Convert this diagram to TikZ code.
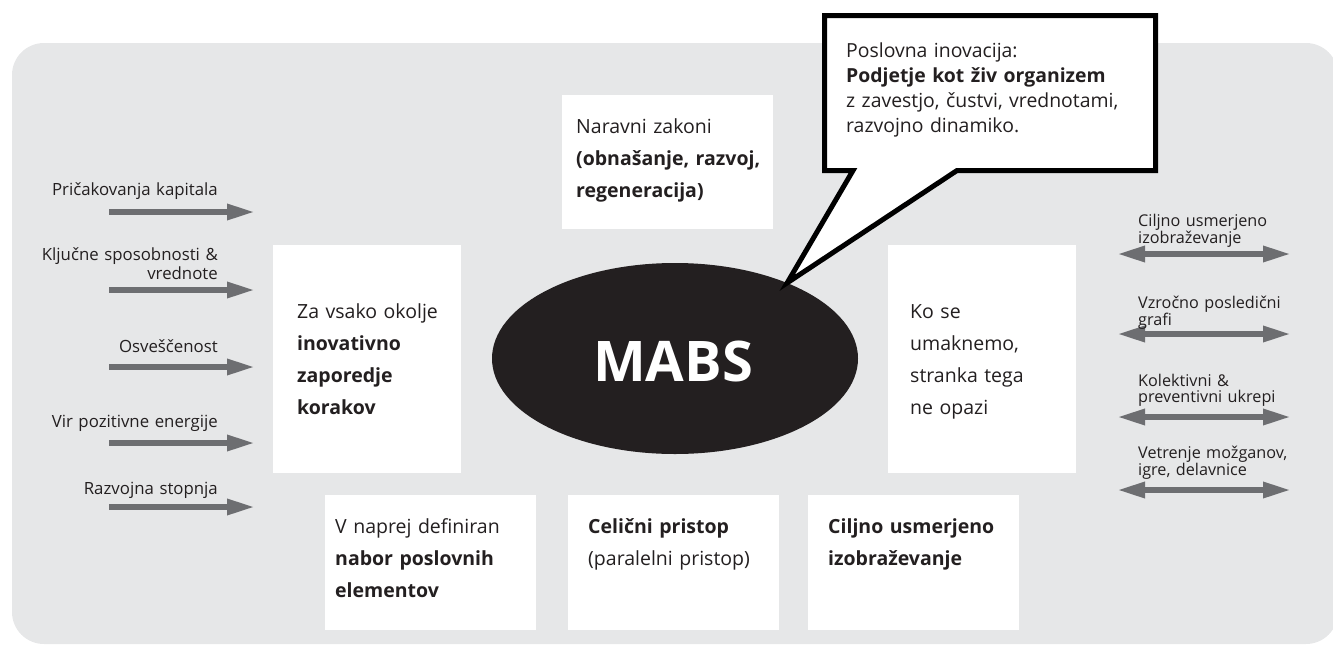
\documentclass[tikz,border=0pt]{standalone}
\usepackage{fontspec}
\setmainfont{Open Sans}
\usetikzlibrary{arrows.meta,shapes.geometric}
\definecolor{bgc}{HTML}{E6E7E8}
\definecolor{arrc}{HTML}{6D6E71}
\definecolor{ink}{HTML}{231F20}
\lineskiplimit=-100pt
\begin{document}
\begin{tikzpicture}[x=1pt,y=-1pt,
  panel/.style={fill=white, draw=none, inner sep=0, anchor=north west},
  boxtxt/.style={inner sep=0, anchor=base west, text width=#1, align=left, text=ink,
    font=\fontsize{19.5}{32}\selectfont},
  lbl/.style={inner sep=0, text width=220pt, text=ink,
    font=\fontsize{16.8}{19}\selectfont},
  rlbl/.style={inner sep=0, text width=200pt, align=left, anchor=base west, text=ink,
    font=\fontsize{16.2}{16}\selectfont},
  inarrow/.style={draw=arrc, line width=6pt, -{Triangle[length=28pt,width=15pt]}},
  twoarrow/.style={draw=arrc, line width=6pt, {Triangle[length=28pt,width=15pt]}-{Triangle[length=28pt,width=15pt]}},
]
\useasboundingbox (0,0) rectangle (1333,646);
% background panel
\fill[bgc, rounded corners=32pt] (12,43) rectangle (1338,644);

% left input arrows
\foreach \n/\y in {1/212,2/290,3/367,4/443,5/507}{
  \coordinate (ls\n) at (109,\y);
  \coordinate (le\n) at (255,\y);
  \draw[inarrow] (ls\n) -- (le\n);
}
\node[lbl, align=right, anchor=base east] (l1) at (218,195) {Pričakovanja kapitala};
\node[lbl, align=right, anchor=base east] (l2) at (218,260) {Ključne sposobnosti \&\\vrednote};
\node[lbl, align=right, anchor=base east] (l3) at (218,352) {Osveščenost};
\node[lbl, align=right, anchor=base east] (l4) at (218,427) {Vir pozitivne energije};
\node[lbl, align=right, anchor=base east] (l5) at (218,494) {Razvojna stopnja};

% right double arrows
\foreach \n/\y in {1/254,2/334,3/417,4/490}{
  \coordinate (rs\n) at (1117,\y);
  \coordinate (re\n) at (1291,\y);
  \draw[twoarrow] (rs\n) -- (re\n);
}
\node[rlbl] (r1) at (1138,226) {Ciljno usmerjeno\\izobraževanje};
\node[rlbl] (r2) at (1138,308) {Vzročno posledični\\grafi};
\node[rlbl] (r3) at (1138,386) {Kolektivni \&\\preventivni ukrepi};
\node[rlbl] (r4) at (1138,458) {Vetrenje možganov,\\igre, delavnice};

% white panels
\node[panel, minimum width=188pt, minimum height=228pt] (pleft) at (273,245) {};
\node[boxtxt=170pt] (tleft) at (297,318) {Za vsako okolje\\\textbf{inovativno}\\\textbf{zaporedje}\\\textbf{korakov}};

\node[panel, minimum width=211pt, minimum height=134pt] (ptop) at (562,95) {};
\node[boxtxt=205pt] (ttop) at (576,133) {Naravni zakoni\\\textbf{(obnašanje, razvoj,}\\\textbf{regeneracija)}};

\node[panel, minimum width=188pt, minimum height=228pt] (pright) at (888,245) {};
\node[boxtxt=170pt] (tright) at (910,318) {Ko se\\umaknemo,\\stranka tega\\ne opazi};

\node[panel, minimum width=211pt, minimum height=135pt] (pb1) at (325,495) {};
\node[boxtxt=205pt] (tb1) at (335,533) {V naprej definiran\\\textbf{nabor poslovnih}\\\textbf{elementov}};

\node[panel, minimum width=211pt, minimum height=135pt] (pb2) at (568,495) {};
\node[boxtxt=200pt] (tb2) at (588,533) {\textbf{Celični pristop}\\(paralelni pristop)};

\node[panel, minimum width=211pt, minimum height=135pt] (pb3) at (808,495) {};
\node[boxtxt=200pt] (tb3) at (828,533) {\textbf{Ciljno usmerjeno}\\\textbf{izobraževanje}};

% central ellipse
\node[ellipse, fill=ink, draw=none, inner sep=0, minimum width=366pt, minimum height=191pt] (mabs) at (675,358.5) {};
\node[inner sep=0, anchor=base, text=white, font=\fontsize{56}{56}\selectfont\bfseries] (mabst) at (673,381) {MABS};

% callout
\coordinate (tip) at (mabs.34);
\draw[draw=black, line width=5pt, fill=white, line join=miter]
  (824.5,15.5) -- (1155.5,15.5) -- (1155.5,170.5) -- (957,170.5) -- (tip) -- (853,170.5) -- (824.5,170.5) -- cycle;
\node[inner sep=0, anchor=base west, text width=300pt, align=left, text=ink,
  font=\fontsize{19.4}{25}\selectfont] (callt) at (846,57)
  {Poslovna inovacija:\\\textbf{Podjetje kot živ organizem}\\z zavestjo, čustvi, vrednotami,\\razvojno dinamiko.};
\end{tikzpicture}
\end{document}
